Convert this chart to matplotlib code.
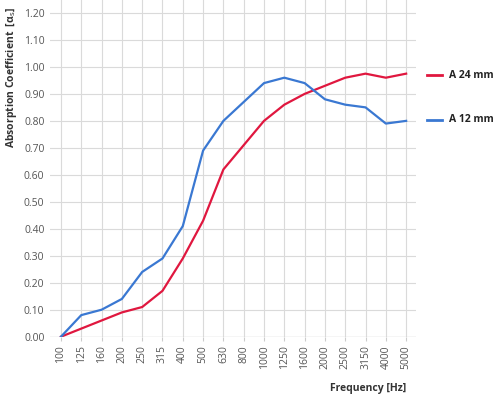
import matplotlib
matplotlib.use("Agg")
import matplotlib.pyplot as plt

freqs = ["100", "125", "160", "200", "250", "315", "400", "500", "630", "800",
         "1000", "1250", "1600", "2000", "2500", "3150", "4000", "5000"]
a24 = [0.00, 0.03, 0.06, 0.09, 0.11, 0.17, 0.29, 0.43, 0.62, 0.71,
       0.80, 0.86, 0.90, 0.93, 0.96, 0.975, 0.96, 0.975]
a12 = [0.00, 0.08, 0.10, 0.14, 0.24, 0.29, 0.41, 0.69, 0.80, 0.87,
       0.94, 0.96, 0.94, 0.88, 0.86, 0.85, 0.79, 0.80]
yticks = [0.0, 0.1, 0.2, 0.3, 0.4, 0.5, 0.6, 0.7, 0.8, 0.9, 1.0, 1.1, 1.2]
series_labels = ["A 24 mm", "A 12 mm"]

red = "#e0173f"
blue = "#3a78d2"

plt.rcParams['font.family'] = ['Open Sans', 'DejaVu Sans']

fig = plt.figure(figsize=(4.95, 3.97), dpi=100)
W, H = 495, 397
ax = fig.add_axes([50 / W, (H - 336.7) / H, (415.7 - 50) / W, 336.7 / H])

x = list(range(len(freqs)))
ax.plot(x, a24, color=red, lw=1.6, solid_joinstyle='round', zorder=3)
ax.plot(x, a12, color=blue, lw=1.6, solid_joinstyle='round', zorder=3)

ax.set_xlim(-0.54, 17.47)
ax.set_ylim(0, 1.248)
ax.set_xticks(x)
ax.set_xticklabels(freqs, rotation=90, fontsize=7.5, color="#555555")
ax.set_yticks(yticks)
ax.set_yticklabels([f"{v:.2f}" for v in yticks], fontsize=7.5, color="#555555")
ax.tick_params(axis='x', length=3, color="#cccccc", pad=3)
ax.tick_params(axis='y', length=0, pad=4)
ax.grid(True, color="#dadada", lw=0.8)
for s in ax.spines.values():
    s.set_visible(False)
ax.axhline(0, color="#cccccc", lw=0.9, zorder=2)

fig.text(12 / W, 1 - 78 / H, "Absorption Coefficient  [α$_\\mathrm{s}$]",
         rotation=90, ha='center', va='center', fontsize=7.5,
         fontweight='bold', color="#333333")
fig.text(406 / W, 1 - 389 / H, "Frequency [Hz]", ha='right', va='center',
         fontsize=7.5, fontweight='bold', color="#333333")

# legend
for lbl, col, yy in [(series_labels[0], red, 75), (series_labels[1], blue, 120)]:
    fig.add_artist(plt.Line2D([427 / W, 442 / W], [1 - yy / H, 1 - yy / H],
                              color=col, lw=2.0))
    fig.text(449 / W, 1 - yy / H, lbl, ha='left', va='center', fontsize=7.5,
             fontweight='bold', color="#222222")

fig.savefig("out.png", dpi=100)
